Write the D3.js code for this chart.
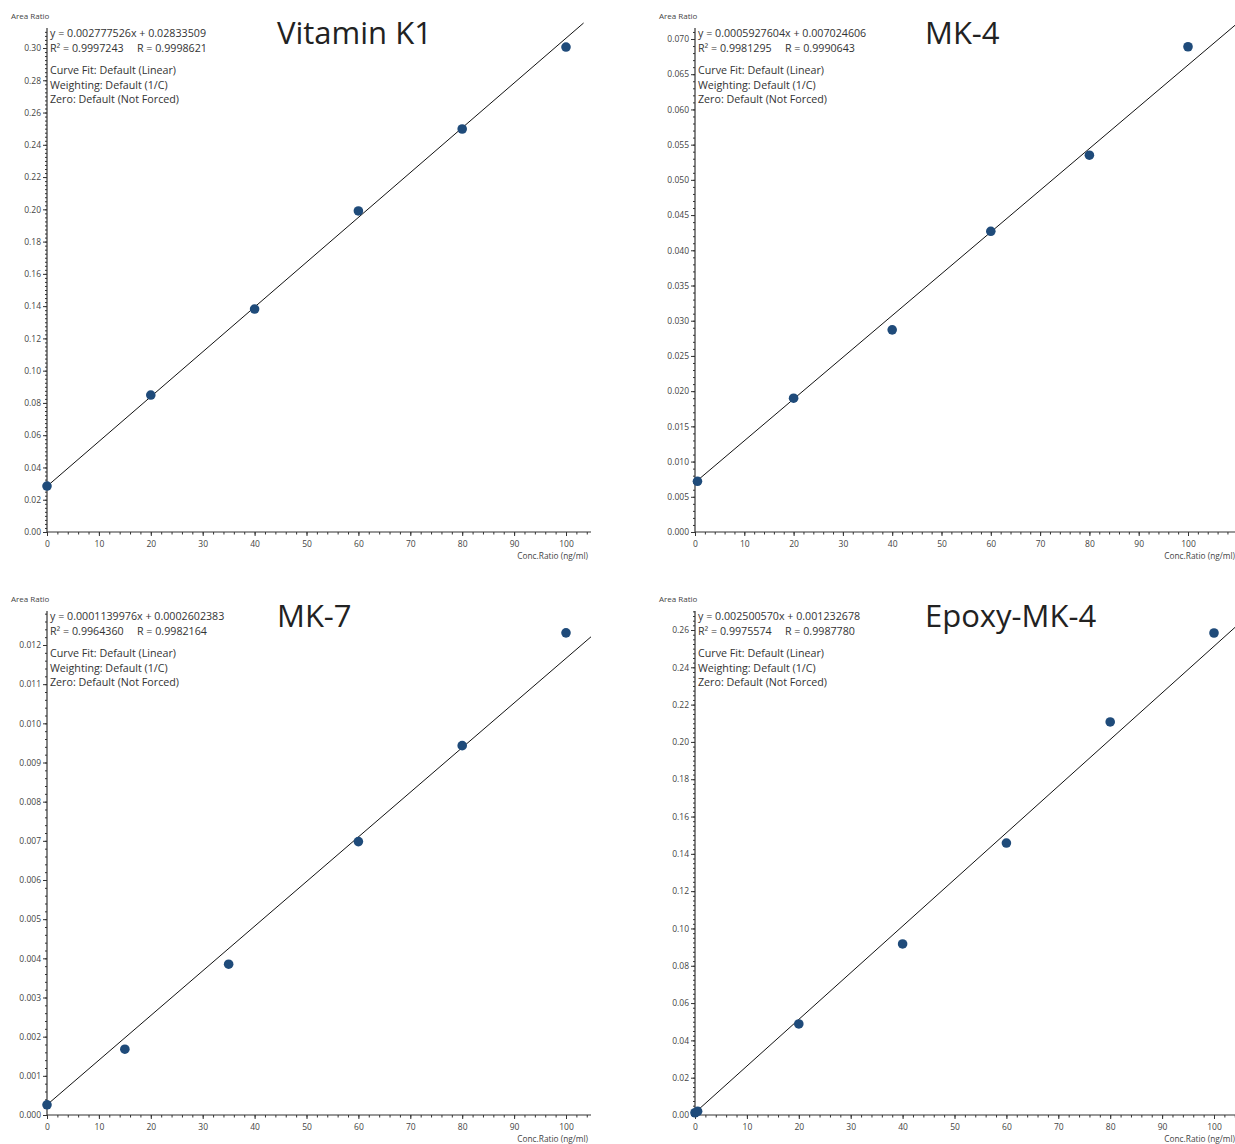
<!DOCTYPE html>
<html>
<head>
<meta charset="utf-8">
<script src="https://cdn.jsdelivr.net/npm/d3@7"></script>
<style>
  body { margin: 0; background: #fff; }
  svg { display: block; font-family: "Open Sans", "Noto Sans", sans-serif; }
  .tick text { fill: #444; }
</style>
</head>
<body>
<svg id="chart" width="1235" height="1144"></svg>
<script>
// ---- data ----
var panelNames = ["Vitamin K1", "MK-4", "MK-7", "Epoxy-MK-4"];
var slopeText = ["0.002777526", "0.0005927604", "0.0001139976", "0.002500570"];
var interceptText = ["0.02833509", "0.007024606", "0.0002602383", "0.001232678"];
var r2Text = ["0.9997243", "0.9981295", "0.9964360", "0.9975574"];
var rText = ["0.9998621", "0.9990643", "0.9982164", "0.9987780"];
var fitNotes = ["Curve Fit: Default (Linear)", "Weighting: Default (1/C)", "Zero: Default (Not Forced)"];

var concK1 = [0, 20, 40, 60, 80, 100];
var areaK1 = [0.0285, 0.0849, 0.1382, 0.1990, 0.2498, 0.3006];
var concMK4 = [0.5, 20, 40, 60, 80, 100];
var areaMK4 = [0.0072, 0.0190, 0.0287, 0.0427, 0.0535, 0.0689];
var concMK7 = [0, 15, 35, 60, 80, 100];
var areaMK7 = [0.00026, 0.00168, 0.00385, 0.00698, 0.00943, 0.01231];
var concEpoxy = [0, 0.5, 20, 40, 60, 80, 100];
var areaEpoxy = [0.0012, 0.0020, 0.0488, 0.0917, 0.1458, 0.2107, 0.2584];

var xTicks = [0, 10, 20, 30, 40, 50, 60, 70, 80, 90, 100];
var yTopTick = [0.30, 0.070, 0.012, 0.26];   // highest labelled y tick
var yStep = [0.02, 0.005, 0.001, 0.02];       // labelled step
var yMinorStep = [0.0025, 0.001, 0.0002, 0.0025];
var yDecimals = [2, 3, 3, 2];

// ---- layout (pixels) ----
var layout = [
  { ox: 0,   oy: 0,   x0: 47,  x100: 566,  xEnd: 591,  y0: 532,  yTop: 48,  axisTop: 28,  conc: concK1,   area: areaK1 },
  { ox: 648, oy: 0,   x0: 695, x100: 1188, xEnd: 1240, y0: 532,  yTop: 39,  axisTop: 28,  conc: concMK4,  area: areaMK4 },
  { ox: 0,   oy: 583, x0: 47,  x100: 566,  xEnd: 591,  y0: 1115, yTop: 645, axisTop: 611, conc: concMK7,  area: areaMK7 },
  { ox: 648, oy: 583, x0: 695, x100: 1214, xEnd: 1240, y0: 1115, yTop: 630, axisTop: 611, conc: concEpoxy, area: areaEpoxy }
];

var svg = d3.select("#chart");
var axisColor = "#333";
var dotColor = "#1f4b7a";

layout.forEach(function(p, i) {
  var g = svg.append("g");
  var x = d3.scaleLinear().domain([0, 100]).range([p.x0, p.x100]);
  var y = d3.scaleLinear().domain([0, yTopTick[i]]).range([p.y0, p.yTop]);
  var xMax = x.invert(p.xEnd);
  var yMax = y.invert(p.axisTop);

  // y axis: minor then major
  var yMinor = d3.range(0, yMax + 1e-12, yMinorStep[i]);
  var yMajor = d3.range(0, yTopTick[i] + yStep[i] / 2, yStep[i]);
  g.append("g")
    .attr("transform", "translate(" + p.x0 + ",0)")
    .call(d3.axisLeft(y).tickValues(yMinor).tickSize(2).tickFormat(""))
    .call(function(a) { a.select(".domain").remove(); a.selectAll("line").attr("stroke", axisColor); });
  g.append("g")
    .attr("transform", "translate(" + p.x0 + ",0)")
    .call(d3.axisLeft(y).tickValues(yMajor).tickSize(4).tickPadding(2).tickFormat(d3.format("." + yDecimals[i] + "f")))
    .call(function(a) {
      a.select(".domain").remove();
      a.selectAll("line").attr("stroke", axisColor);
      a.selectAll("text").attr("font-size", "8.5px").attr("font-family", "Open Sans");
    });
  g.append("line")
    .attr("x1", p.x0).attr("x2", p.x0)
    .attr("y1", p.y0).attr("y2", p.axisTop)
    .attr("stroke", axisColor).attr("stroke-width", 1.2);

  // x axis
  var xMinor = d3.range(0, xMax, 2);
  g.append("g")
    .attr("transform", "translate(0," + p.y0 + ")")
    .call(d3.axisBottom(x).tickValues(xMinor).tickSize(2.5).tickFormat(""))
    .call(function(a) { a.select(".domain").remove(); a.selectAll("line").attr("stroke", axisColor); });
  g.append("g")
    .attr("transform", "translate(0," + p.y0 + ")")
    .call(d3.axisBottom(x).tickValues(xTicks).tickSize(4).tickPadding(4.5))
    .call(function(a) {
      a.select(".domain").remove();
      a.selectAll("line").attr("stroke", axisColor);
      a.selectAll("text").attr("font-size", "8.5px").attr("font-family", "Open Sans");
    });
  g.append("line")
    .attr("x1", p.x0).attr("x2", p.xEnd)
    .attr("y1", p.y0).attr("y2", p.y0)
    .attr("stroke", axisColor).attr("stroke-width", 1.2);

  // axis titles
  g.append("text")
    .attr("x", p.ox + 11).attr("y", p.oy + 19)
    .attr("font-size", "8px").attr("fill", "#444")
    .text("Area Ratio");
  g.append("text")
    .attr("x", Math.min(p.xEnd - 3, 1235)).attr("y", p.y0 + 27)
    .attr("text-anchor", "end")
    .attr("font-size", "8.3px").attr("fill", "#444")
    .text("Conc.Ratio (ng/ml)");

  // regression line
  var slope = +slopeText[i], icpt = +interceptText[i];
  var xLineEnd = Math.min(xMax, (y.invert(p.axisTop - 5) - icpt) / slope);
  g.append("line")
    .attr("x1", x(0)).attr("y1", y(icpt))
    .attr("x2", x(xLineEnd)).attr("y2", y(slope * xLineEnd + icpt))
    .attr("stroke", "#111").attr("stroke-width", 1);

  // points
  g.selectAll("circle.pt")
    .data(p.conc.map(function(c, k) { return { c: c, a: p.area[k] }; }))
    .enter().append("circle")
    .attr("class", "pt")
    .attr("cx", function(d) { return x(d.c); })
    .attr("cy", function(d) { return y(d.a); })
    .attr("r", 4.8)
    .attr("fill", dotColor);

  // equation block
  var tx = p.ox + 50, ty = p.oy;
  var eq = g.append("g").attr("font-size", "10.7px").attr("fill", "#333");
  eq.append("text").attr("x", tx).attr("y", ty + 37)
    .text("y = " + slopeText[i] + "x + " + interceptText[i]);
  eq.append("text").attr("x", tx).attr("y", ty + 52)
    .text("R\u00b2 = " + r2Text[i]);
  eq.append("text").attr("x", tx + 87).attr("y", ty + 52)
    .text("R = " + rText[i]);
  fitNotes.forEach(function(s, k) {
    eq.append("text").attr("x", tx).attr("y", ty + 74 + k * 14.6).text(s);
  });

  // panel title
  g.append("text")
    .attr("x", p.ox + 277).attr("y", p.oy + 44)
    .attr("font-size", "31px").attr("fill", "#222")
    .text(panelNames[i]);
});
</script>
</body>
</html>
